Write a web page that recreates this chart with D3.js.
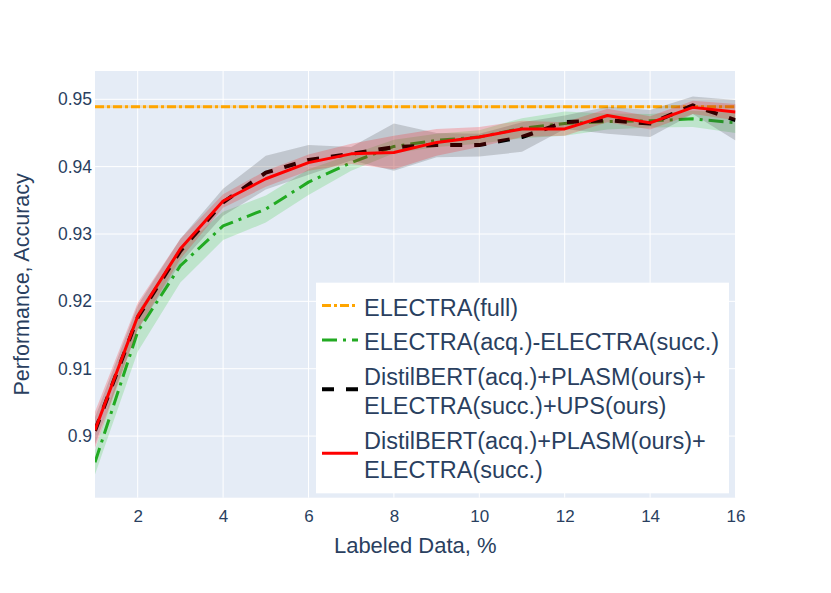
<!DOCTYPE html>
<html>
<head>
<meta charset="utf-8">
<script src="https://cdn.jsdelivr.net/npm/d3@7"></script>
<style>
  body { margin: 0; background: #fff; }
  text { font-family: "Liberation Sans", Arial, sans-serif; fill: #2a3f5f; }
</style>
</head>
<body>
<div id="chart"></div>
<script>
// Labeled data share, %
const labeledPct = [1, 2, 3, 4, 5, 6, 7, 8, 9, 10, 11, 12, 13, 14, 15, 16];

// ELECTRA(full) - single reference value
const electraFull = 0.9489;
const electraFullStd = 0.0002;

// ELECTRA(acq.)-ELECTRA(succ.)
const electraAcqSucc = [0.8961, 0.9155, 0.9253, 0.9312, 0.9337, 0.9377, 0.9406, 0.9430, 0.9439, 0.9444, 0.9457, 0.9464, 0.9467, 0.9468, 0.9471, 0.9465];
const electraAcqSuccStd = [0.0018, 0.003, 0.0025, 0.0021, 0.002, 0.0019, 0.0012, 0.001, 0.001, 0.001, 0.0015, 0.0018, 0.0012, 0.001, 0.0012, 0.0015];

// DistilBERT(acq.)+PLASM(ours)+ELECTRA(succ.)+UPS(ours)
const upsMean = [0.9008, 0.9176, 0.9275, 0.9347, 0.9391, 0.9410, 0.9419, 0.9429, 0.9432, 0.9432, 0.9444, 0.9466, 0.9469, 0.9464, 0.9491, 0.9469];
const upsStd = [0.002, 0.0018, 0.0018, 0.002, 0.0025, 0.0022, 0.001, 0.0035, 0.0018, 0.0017, 0.0022, 0.001, 0.002, 0.002, 0.0013, 0.003];

// DistilBERT(acq.)+PLASM(ours)+ELECTRA(succ.)
const plasmMean = [0.9009, 0.9178, 0.9278, 0.9349, 0.9382, 0.9406, 0.9419, 0.9421, 0.9436, 0.9444, 0.9456, 0.9456, 0.9476, 0.9465, 0.9488, 0.9481];
const plasmStd = [0.0027, 0.002, 0.0015, 0.001, 0.0012, 0.0012, 0.0015, 0.0025, 0.002, 0.0015, 0.0012, 0.001, 0.001, 0.001, 0.001, 0.0012];

const xTicks = [2, 4, 6, 8, 10, 12, 14, 16];
const yTicks = [0.9, 0.91, 0.92, 0.93, 0.94, 0.95];

const W = 831, H = 593;
const margin = { top: 71, right: 95.5, bottom: 95.3, left: 95 };
const width = W - margin.left - margin.right;
const height = H - margin.top - margin.bottom;

const svg = d3.select("#chart").append("svg")
    .attr("width", W)
    .attr("height", H);

const g = svg.append("g")
    .attr("transform", `translate(${margin.left},${margin.top})`);

const x = d3.scaleLinear().domain([1, 16]).range([0, width]);
const y = d3.scaleLinear().domain([0.89085, 0.9542]).range([height, 0]);

// plot background
g.append("rect")
    .attr("width", width)
    .attr("height", height)
    .attr("fill", "#E5ECF6");

// grid
g.append("g")
    .selectAll("line")
    .data(xTicks)
    .enter().append("line")
    .attr("x1", d => x(d)).attr("x2", d => x(d))
    .attr("y1", 0).attr("y2", height)
    .attr("stroke", "#fff").attr("stroke-width", 1);

g.append("g")
    .selectAll("line")
    .data(yTicks)
    .enter().append("line")
    .attr("x1", 0).attr("x2", width)
    .attr("y1", d => y(d)).attr("y2", d => y(d))
    .attr("stroke", "#fff").attr("stroke-width", 1);

g.append("clipPath").attr("id", "clip")
    .append("rect").attr("width", width).attr("height", height);

const plot = g.append("g").attr("clip-path", "url(#clip)");

const toRows = (mean, std) => labeledPct.map((p, i) => ({ p, m: mean[i], s: std[i] }));

const area = d3.area()
    .x(d => x(d.p))
    .y0(d => y(d.m - d.s))
    .y1(d => y(d.m + d.s));

const line = d3.line()
    .x(d => x(d.p))
    .y(d => y(d.m));

const fullRows = [labeledPct[0], labeledPct[labeledPct.length - 1]]
    .map(p => ({ p, m: electraFull, s: electraFullStd }));

const series = [
    { name: ["ELECTRA(full)"], rows: fullRows, color: "#FFA500", band: "rgba(255,165,0,0.25)", width: 3, dash: "9,3,3,3" },
    { name: ["ELECTRA(acq.)-ELECTRA(succ.)"], rows: toRows(electraAcqSucc, electraAcqSuccStd), color: "#22aa22", band: "rgba(0,190,0,0.17)", width: 3, dash: "15,6,3,6" },
    { name: ["DistilBERT(acq.)+PLASM(ours)+", "ELECTRA(succ.)+UPS(ours)"], rows: toRows(upsMean, upsStd), color: "#000", band: "rgba(68,68,68,0.22)", width: 4, dash: "12,12" },
    { name: ["DistilBERT(acq.)+PLASM(ours)+", "ELECTRA(succ.)"], rows: toRows(plasmMean, plasmStd), color: "#ff0000", band: "rgba(255,0,0,0.2)", width: 3, dash: null }
];

series.forEach(s => {
    plot.append("path")
        .datum(s.rows)
        .attr("fill", s.band)
        .attr("stroke", "none")
        .attr("d", area);
    plot.append("path")
        .datum(s.rows)
        .attr("fill", "none")
        .attr("stroke", s.color)
        .attr("stroke-width", s.width)
        .attr("stroke-dasharray", s.dash)
        .attr("stroke-linejoin", "round")
        .attr("d", line);
});

// axes (labels only, plotly style)
const xAxis = d3.axisBottom(x).tickValues(xTicks).tickSize(0).tickPadding(12);
const yAxis = d3.axisLeft(y).tickValues(yTicks).tickSize(0).tickPadding(3).tickFormat(d3.format("~g"));

g.append("g")
    .attr("transform", `translate(0,${height})`)
    .call(xAxis)
    .call(a => a.select(".domain").remove())
    .selectAll("text")
    .style("font-size", "17px")
    .attr("fill", "#2a3f5f");

g.append("g")
    .call(yAxis)
    .call(a => a.select(".domain").remove())
    .selectAll("text")
    .style("font-size", "17.5px")
    .attr("fill", "#2a3f5f");

// axis titles
svg.append("text")
    .attr("x", margin.left + width / 2)
    .attr("y", 553)
    .attr("text-anchor", "middle")
    .style("font-size", "22px")
    .text("Labeled Data, %");

svg.append("text")
    .attr("transform", `translate(28.5,${margin.top + height / 2}) rotate(-90)`)
    .attr("text-anchor", "middle")
    .style("font-size", "21.5px")
    .text("Performance, Accuracy");

// legend
const legend = svg.append("g");
legend.append("rect")
    .attr("x", 316).attr("y", 282.7)
    .attr("width", 413).attr("height", 210.6)
    .attr("fill", "#fff");

let baseY = 315.5;
series.forEach(s => {
    const lineH = 29.5;
    const symY = baseY - 9.5 + (s.name.length - 1) * lineH / 2 - 0.5;
    legend.append("line")
        .attr("x1", 322).attr("x2", 358)
        .attr("y1", symY).attr("y2", symY)
        .attr("stroke", s.color)
        .attr("stroke-width", s.width)
        .attr("stroke-dasharray", s.dash);
    s.name.forEach((t, i) => {
        legend.append("text")
            .attr("x", 364)
            .attr("y", baseY + i * lineH)
            .style("font-size", "23.5px")
            .text(t);
    });
    baseY += (s.name.length - 1) * lineH + 34.5;
});
</script>
</body>
</html>
